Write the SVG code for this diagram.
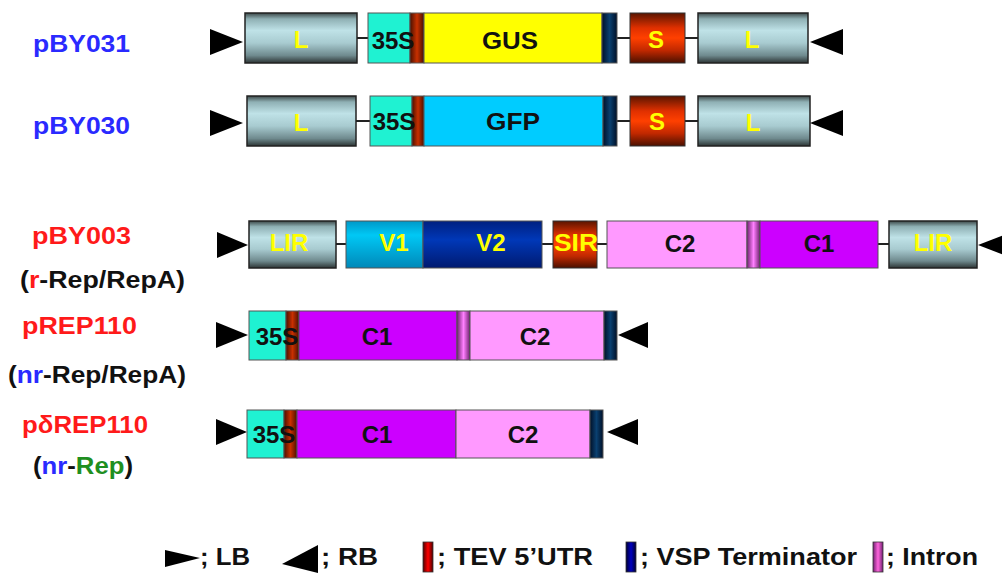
<svg xmlns="http://www.w3.org/2000/svg" width="1002" height="575" viewBox="0 0 1002 575">
<defs>
<linearGradient id="gL" x1="0" y1="0" x2="0" y2="1">
<stop offset="0" stop-color="#3c4848"/><stop offset="0.12" stop-color="#8fb0b4"/><stop offset="0.35" stop-color="#bfe2e7"/><stop offset="0.6" stop-color="#a8cbd0"/><stop offset="0.85" stop-color="#6f8a8e"/><stop offset="1" stop-color="#2c3434"/>
</linearGradient>
<linearGradient id="gS" x1="0" y1="0" x2="0" y2="1">
<stop offset="0" stop-color="#5a1500"/><stop offset="0.3" stop-color="#e03000"/><stop offset="0.5" stop-color="#ff4000"/><stop offset="0.75" stop-color="#c02800"/><stop offset="1" stop-color="#4a1000"/>
</linearGradient>
<linearGradient id="gV1" x1="0" y1="0" x2="0" y2="1">
<stop offset="0" stop-color="#0098c8"/><stop offset="0.3" stop-color="#00c8f5"/><stop offset="1" stop-color="#0088b8"/>
</linearGradient>
<linearGradient id="gV2" x1="0" y1="0" x2="0" y2="1">
<stop offset="0" stop-color="#002080"/><stop offset="0.4" stop-color="#0038b8"/><stop offset="1" stop-color="#001a70"/>
</linearGradient>
<linearGradient id="gTEV" x1="0" y1="0" x2="1" y2="0">
<stop offset="0" stop-color="#4a1000"/><stop offset="0.5" stop-color="#c83000"/><stop offset="1" stop-color="#4a1000"/>
</linearGradient>
<linearGradient id="gVSP" x1="0" y1="0" x2="1" y2="0">
<stop offset="0" stop-color="#001028"/><stop offset="0.5" stop-color="#0a4070"/><stop offset="1" stop-color="#001028"/>
</linearGradient>
<linearGradient id="gInt" x1="0" y1="0" x2="1" y2="0">
<stop offset="0" stop-color="#702070"/><stop offset="0.5" stop-color="#ff80ff"/><stop offset="1" stop-color="#702070"/>
</linearGradient>
<linearGradient id="gLegR" x1="0" y1="0" x2="1" y2="0">
<stop offset="0" stop-color="#500000"/><stop offset="0.5" stop-color="#ff0000"/><stop offset="1" stop-color="#500000"/>
</linearGradient>
<linearGradient id="gLegB" x1="0" y1="0" x2="1" y2="0">
<stop offset="0" stop-color="#000030"/><stop offset="0.5" stop-color="#0000c0"/><stop offset="1" stop-color="#000030"/>
</linearGradient>
<linearGradient id="gLegP" x1="0" y1="0" x2="1" y2="0">
<stop offset="0" stop-color="#702070"/><stop offset="0.5" stop-color="#ff66dd"/><stop offset="1" stop-color="#702070"/>
</linearGradient>
<style>
text{font-family:"Liberation Sans",Arial,sans-serif;font-weight:bold;}
.bx{stroke:#555;stroke-width:1;}
.cyl{fill:url(#gL);stroke:#222;stroke-width:1.5;}
.red{fill:url(#gS);stroke:#333;stroke-width:1;}
.p35{fill:#1ff2d2;}
.tev{fill:url(#gTEV);}
.vsp{fill:url(#gVSP);}
.int{fill:url(#gInt);}
.c1{fill:#cc00ff;}
.c2{fill:#ff99ff;}
.t{font-size:24px;text-anchor:middle;fill:#111;}
.y{fill:#ffff00;}
.lab{font-size:24px;}
.blue{fill:#2a2aff;}
.rd{fill:#ff1a1a;}
.gr{fill:#1f8f1f;}
.bk{fill:#111;}
.conn{stroke:#222;stroke-width:2;}
.tri{fill:#000;}
.leg{font-size:24px;fill:#111;}
</style>
</defs>
<rect width="1002" height="575" fill="#fff"/>

<g id="connectors">
<line class="conn" x1="357" y1="38" x2="368" y2="38"/>
<line class="conn" x1="617" y1="38" x2="630" y2="38"/>
<line class="conn" x1="685" y1="38" x2="698" y2="38"/>
<line class="conn" x1="356" y1="121" x2="370" y2="121"/>
<line class="conn" x1="617" y1="121" x2="630" y2="121"/>
<line class="conn" x1="685" y1="121" x2="698" y2="121"/>
<line class="conn" x1="336" y1="244" x2="346" y2="244"/>
<line class="conn" x1="542" y1="244" x2="553" y2="244"/>
<line class="conn" x1="597" y1="244" x2="607" y2="244"/>
<line class="conn" x1="878" y1="244" x2="889" y2="244"/>
</g>

<g id="labels">
<text class="lab blue" x="33" y="52" textLength="97" lengthAdjust="spacingAndGlyphs">pBY031</text>
<text class="lab blue" x="33" y="134" textLength="97" lengthAdjust="spacingAndGlyphs">pBY030</text>
<text class="lab rd" x="32" y="244" textLength="99" lengthAdjust="spacingAndGlyphs">pBY003</text>
<text class="lab bk" x="20" y="288" textLength="165" lengthAdjust="spacingAndGlyphs">(<tspan class="rd">r</tspan>-Rep/RepA)</text>
<text class="lab rd" x="22" y="334" textLength="115" lengthAdjust="spacingAndGlyphs">pREP110</text>
<text class="lab bk" x="8" y="383" textLength="178" lengthAdjust="spacingAndGlyphs">(<tspan class="blue">nr</tspan>-Rep/RepA)</text>
<text class="lab rd" x="22" y="433" textLength="126" lengthAdjust="spacingAndGlyphs">pδREP110</text>
<text class="lab bk" x="33" y="474" textLength="100" lengthAdjust="spacingAndGlyphs">(<tspan class="blue">nr</tspan>-<tspan class="gr">Rep</tspan>)</text>
</g>

<g id="pBY031">
<polygon class="tri" points="210,29 210,55 243,42"/>
<rect class="cyl" x="245" y="13" width="112" height="50"/>
<text class="t y" x="301" y="48">L</text>
<rect class="bx p35" x="368" y="13" width="42" height="50"/>
<rect class="bx tev" x="410" y="13" width="14" height="50"/>
<text class="t" x="393" y="49">35S</text>
<rect class="bx" x="424" y="13" width="178" height="50" fill="#ffff00"/>
<text class="t" x="510" y="49" textLength="56" lengthAdjust="spacingAndGlyphs">GUS</text>
<rect class="bx vsp" x="602" y="13" width="15" height="50"/>
<rect class="red" x="630" y="13" width="55" height="50"/>
<text class="t y" x="656" y="48">S</text>
<rect class="cyl" x="698" y="13" width="110" height="50"/>
<text class="t y" x="752" y="48">L</text>
<polygon class="tri" points="843,29 843,55 810,42"/>
</g>

<g id="pBY030">
<polygon class="tri" points="210,110 210,136 243,123"/>
<rect class="cyl" x="247" y="96" width="109" height="50"/>
<text class="t y" x="301" y="131">L</text>
<rect class="bx p35" x="370" y="96" width="42" height="50"/>
<rect class="bx tev" x="412" y="96" width="12" height="50"/>
<text class="t" x="394" y="130">35S</text>
<rect class="bx" x="424" y="96" width="179" height="50" fill="#00ccff"/>
<text class="t" x="513" y="130" textLength="54" lengthAdjust="spacingAndGlyphs">GFP</text>
<rect class="bx vsp" x="603" y="96" width="14" height="50"/>
<rect class="red" x="630" y="96" width="55" height="50"/>
<text class="t y" x="657" y="130">S</text>
<rect class="cyl" x="698" y="96" width="112" height="50"/>
<text class="t y" x="753" y="131">L</text>
<polygon class="tri" points="843,110 843,136 810,123"/>
</g>

<g id="pBY003">
<polygon class="tri" points="217,232 217,258 248,245"/>
<rect class="cyl" x="249" y="221" width="87" height="47"/>
<text class="t y" x="289" y="251">LIR</text>
<rect class="bx" x="346" y="221" width="77" height="47" fill="url(#gV1)"/>
<text class="t y" x="394" y="251">V1</text>
<rect class="bx" x="423" y="221" width="119" height="47" fill="url(#gV2)"/>
<text class="t y" x="491" y="251">V2</text>
<rect class="red" x="553" y="221" width="44" height="47"/>
<text class="t y" x="576" y="251" textLength="44" lengthAdjust="spacingAndGlyphs">SIR</text>
<rect class="bx c2" x="607" y="221" width="140" height="47"/>
<text class="t" x="680" y="252">C2</text>
<rect class="bx int" x="747" y="221" width="13" height="47"/>
<rect class="bx c1" x="760" y="221" width="118" height="47"/>
<text class="t" x="819" y="252">C1</text>
<rect class="cyl" x="889" y="221" width="88" height="47"/>
<text class="t y" x="933" y="251">LIR</text>
<polygon class="tri" points="1012,232 1012,258 978,245"/>
</g>

<g id="pREP110">
<polygon class="tri" points="216,322 216,348 248,335"/>
<rect class="bx p35" x="249" y="311" width="37" height="49"/>
<rect class="bx tev" x="286" y="311" width="13" height="49"/>
<text class="t" x="277" y="345">35S</text>
<rect class="bx c1" x="299" y="311" width="158" height="49"/>
<text class="t" x="377" y="345">C1</text>
<rect class="bx int" x="457" y="311" width="13" height="49"/>
<rect class="bx c2" x="470" y="311" width="134" height="49"/>
<text class="t" x="535" y="345">C2</text>
<rect class="bx vsp" x="604" y="311" width="13" height="49"/>
<polygon class="tri" points="648,322 648,348 618,335"/>
</g>

<g id="pdREP110">
<polygon class="tri" points="216,419 216,445 247,432"/>
<rect class="bx p35" x="247" y="410" width="37" height="48"/>
<rect class="bx tev" x="284" y="410" width="13" height="48"/>
<text class="t" x="274" y="443">35S</text>
<rect class="bx c1" x="297" y="410" width="159" height="48"/>
<text class="t" x="377" y="443">C1</text>
<rect class="bx c2" x="456" y="410" width="134" height="48"/>
<text class="t" x="523" y="443">C2</text>
<rect class="bx vsp" x="590" y="410" width="13" height="48"/>
<polygon class="tri" points="638,419 638,445 607,432"/>
</g>

<g id="legend">
<polygon class="tri" points="165,550 165,567 200,558"/>
<text class="leg" x="200" y="565" textLength="50" lengthAdjust="spacingAndGlyphs">; LB</text>
<polygon class="tri" points="318,545 318,573 282,564"/>
<text class="leg" x="321" y="565" textLength="57" lengthAdjust="spacingAndGlyphs">; RB</text>
<rect x="423" y="542" width="10" height="30" fill="url(#gLegR)" stroke="#333" stroke-width="0.8"/>
<text class="leg" x="437" y="565" textLength="156" lengthAdjust="spacingAndGlyphs">; TEV 5’UTR</text>
<rect x="626" y="542" width="10" height="30" fill="url(#gLegB)" stroke="#333" stroke-width="0.8"/>
<text class="leg" x="640" y="565" textLength="217" lengthAdjust="spacingAndGlyphs">; VSP Terminator</text>
<rect x="873" y="542" width="10" height="30" fill="url(#gLegP)" stroke="#333" stroke-width="0.8"/>
<text class="leg" x="886" y="565" textLength="92" lengthAdjust="spacingAndGlyphs">; Intron</text>
</g>
</svg>
